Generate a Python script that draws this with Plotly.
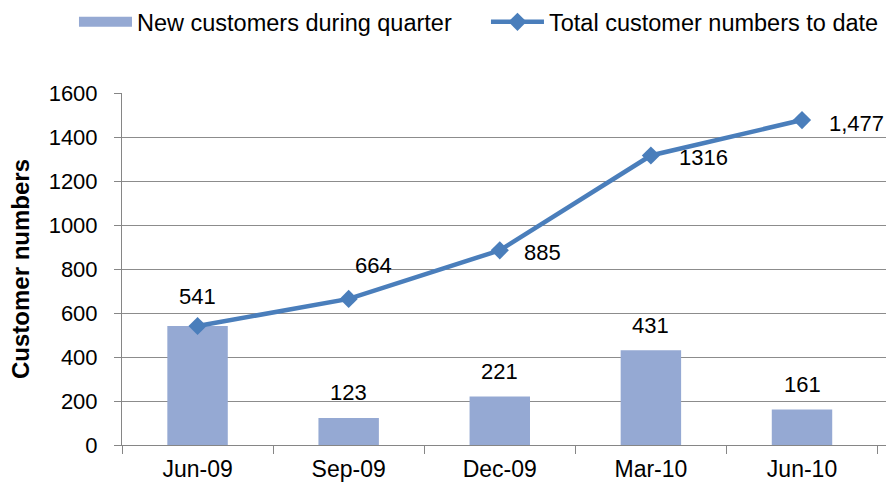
import plotly.graph_objects as go

categories = ["Jun-09", "Sep-09", "Dec-09", "Mar-10", "Jun-10"]
new_customers = [541, 123, 221, 431, 161]
total_customers = [541, 664, 885, 1316, 1477]
total_labels = ["", "664", "885", "1316", "1,477"]
y_ticks = [0, 200, 400, 600, 800, 1000, 1200, 1400, 1600]

# label placement (pixels), styling only
bar_label_yshift = [29, 25, 25, 25, 25]
line_label_xshift = [0, 4, 22, 26, 25]
line_label_yshift = [0, 33, -2, -2, -3]

FONT = "Liberation Sans, Arial, sans-serif"
BAR_COLOR = "#95A9D3"
LINE_COLOR = "#4A7EBB"
GRID = "#8C8C8C"

fig = go.Figure()
fig.add_trace(go.Bar(
    x=categories, y=new_customers, name="New customers during quarter",
    marker=dict(color=BAR_COLOR, line=dict(width=0)),
    width=0.4, showlegend=False,
))
# legend entry for the bars drawn as a wide swatch, like the original
fig.add_trace(go.Scatter(
    x=[None], y=[None], mode="lines", name="New customers during quarter",
    line=dict(color=BAR_COLOR, width=12), hoverinfo="skip", legend="legend",
))
fig.add_trace(go.Scatter(
    x=categories, y=total_customers, name="Total customer numbers to date",
    mode="lines+markers",
    line=dict(color=LINE_COLOR, width=4.5),
    marker=dict(symbol="diamond", size=14, color=LINE_COLOR),
    cliponaxis=False, legend="legend2",
))

for i, (c, v) in enumerate(zip(categories, new_customers)):
    fig.add_annotation(x=c, y=v, text=str(v), showarrow=False,
                       xanchor="center", yanchor="middle", yshift=bar_label_yshift[i],
                       font=dict(size=22, color="#000000", family=FONT))
for i, (c, v, t) in enumerate(zip(categories, total_customers, total_labels)):
    if not t:
        continue
    fig.add_annotation(x=c, y=v, text=t, showarrow=False,
                       xanchor="left", yanchor="middle",
                       xshift=line_label_xshift[i], yshift=line_label_yshift[i],
                       font=dict(size=22, color="#000000", family=FONT))

legend_common = dict(orientation="h", xanchor="left", y=0.9558, yanchor="middle",
                     yref="container", xref="container",
                     font=dict(size=23.5), itemwidth=53)

fig.update_layout(
    width=886, height=498,
    margin=dict(l=122, r=0, t=93, b=53, autoexpand=False),
    paper_bgcolor="white", plot_bgcolor="white",
    font=dict(family=FONT, size=22, color="#000000"),
    legend=dict(x=0.0835, **legend_common),
    legend2=dict(x=0.5485, **legend_common),
    showlegend=True,
)
fig.update_xaxes(
    showline=True, linecolor="#868686", linewidth=1,
    ticks="outside", ticklen=8, tickcolor="#868686", tickson="boundaries",
    showgrid=False, tickfont=dict(size=23), ticklabelstandoff=3, automargin=False,
)
fig.update_yaxes(
    range=[0, 1600], tickvals=y_ticks, showgrid=True, gridcolor=GRID, gridwidth=1,
    showline=True, linecolor="#868686", linewidth=1,
    ticks="outside", ticklen=7, tickcolor="#868686", tickfont=dict(size=22),
    ticklabelstandoff=12,
    title=dict(text="<b>Customer numbers</b>", font=dict(size=24), standoff=12),
    zeroline=False, automargin=False,
)

fig.write_html(
    "out.html",
    config={"displayModeBar": False},
    post_script="document.body.style.margin='0';document.body.style.overflow='hidden';",
)
